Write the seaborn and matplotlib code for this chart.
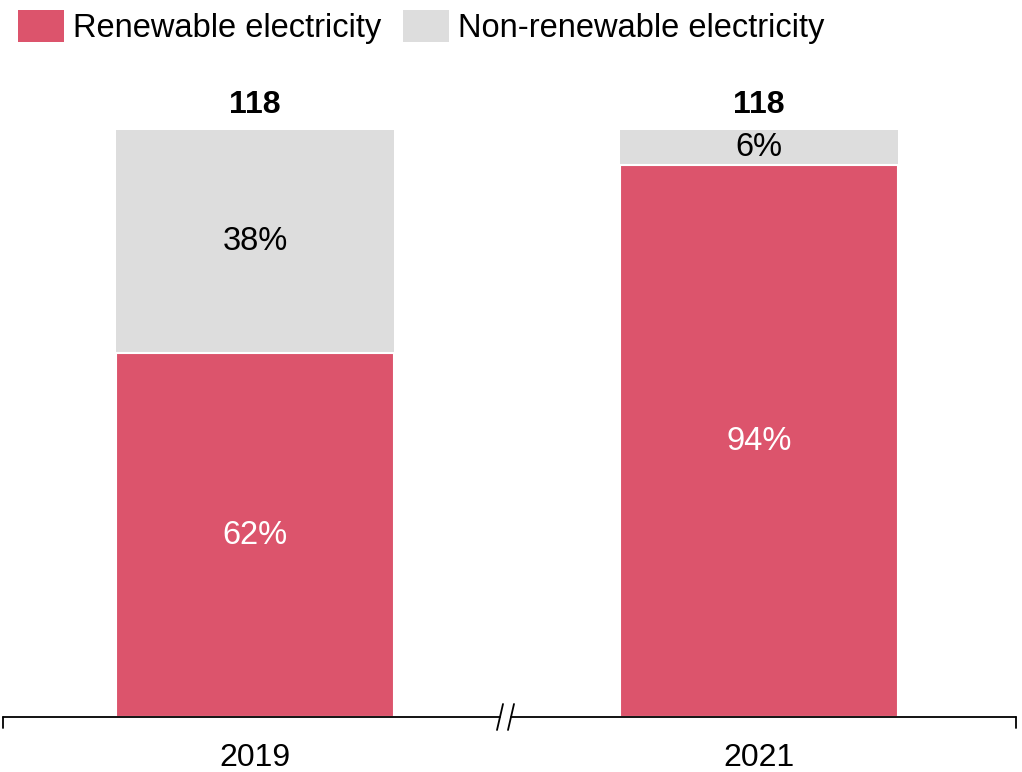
import matplotlib
matplotlib.use("Agg")
import matplotlib.pyplot as plt
from matplotlib.patches import Patch
import seaborn as sns
import pandas as pd

years = ["2019", "2021"]
totals = [118, 118]
renewable_pct = [62, 94]
nonrenewable_pct = [38, 6]
series_names = ["Renewable electricity", "Non-renewable electricity"]

RED = "#DC546C"
GRAY = "#DDDDDD"

sns.set_theme(style="white")
plt.rcParams['font.family'] = ['Liberation Sans', 'DejaVu Sans']

renew_vals = [t * p / 100 for t, p in zip(totals, renewable_pct)]
df = pd.DataFrame({"year": years, "total": totals, "renew": renew_vals})

fig = plt.figure(figsize=(10.22, 7.72), dpi=100)
ax = fig.add_axes([3/1022, 1 - 717/772, (1016 - 3)/1022, (717 - 55)/772])

sns.barplot(data=df, x="year", y="total", color=GRAY, width=0.55,
            edgecolor="white", linewidth=0, ax=ax, saturation=1)
sns.barplot(data=df, x="year", y="renew", color=RED, width=0.55,
            edgecolor="white", linewidth=1.5, ax=ax, saturation=1)

ymax = 118 * 662 / 587
ax.set_ylim(0, ymax)
ax.set_xlim(-0.5, 1.51)

for i in range(len(years)):
    r = renew_vals[i]
    t = totals[i]
    ax.text(i, r / 2, f"{renewable_pct[i]}%", ha="center", va="center",
            color="white", fontsize=23.5)
    ax.text(i, r + (t - r) / 2, f"{nonrenewable_pct[i]}%", ha="center", va="center",
            color="black", fontsize=23.5)
    ax.text(i, t + 2.0, f"{t}", ha="center", va="bottom", color="black",
            fontsize=23, fontweight="bold")

for s in ["top", "right", "left", "bottom"]:
    ax.spines[s].set_visible(False)
ax.set_yticks([])
ax.set_xlabel("")
ax.set_ylabel("")
ax.tick_params(axis="x", length=0, pad=19, labelsize=23, colors="black")

# baseline with break
tr = ax.transAxes
axw = (1016 - 3)
x_b1 = (500 - 3) / axw
x_b2 = (511 - 3) / axw
ax.plot([0, x_b1], [0, 0], color="black", lw=1.3, transform=tr, clip_on=False)
ax.plot([x_b2, 1], [0, 0], color="black", lw=1.3, transform=tr, clip_on=False)
dy = 13 / 662
dx = 3 / axw
for xb in (x_b1, x_b2):
    ax.plot([xb - dx, xb + dx], [-dy, dy], color="black", lw=1.3,
            transform=tr, clip_on=False)
# end ticks
tk = 11 / 662
ax.plot([0, 0], [0, -tk], color="black", lw=1.3, transform=tr, clip_on=False)
ax.plot([1, 1], [0, -tk], color="black", lw=1.3, transform=tr, clip_on=False)

handles = [Patch(facecolor=RED, edgecolor="none"), Patch(facecolor=GRAY, edgecolor="none")]
leg = fig.legend(handles, series_names, loc="upper left", bbox_to_anchor=(0.008, 1.0),
                 ncol=2, frameon=False, fontsize=23.5, handlelength=1.4, handleheight=1.15,
                 handletextpad=0.3, columnspacing=0.65, borderaxespad=0.15,
                 borderpad=0.15)
for txt in leg.get_texts():
    txt.set_color("black")

fig.savefig("out.png", dpi=100)
